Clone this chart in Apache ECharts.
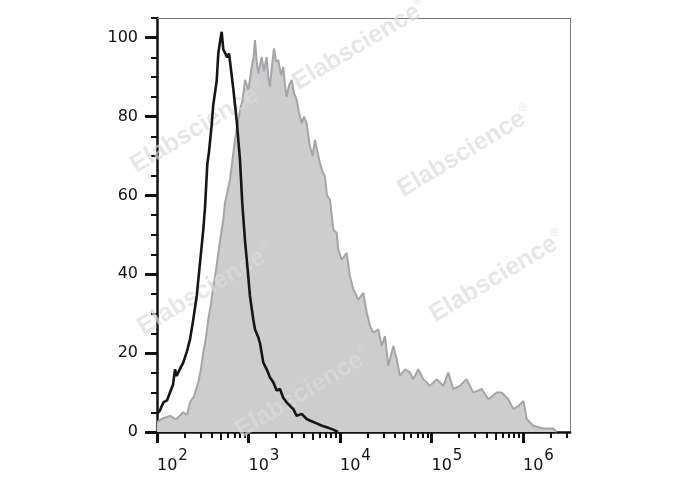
<!DOCTYPE html>
<html>
<head>
<meta charset="utf-8">
<script src="https://cdn.jsdelivr.net/npm/echarts@6/dist/echarts.min.js"></script>
<style>
html,body{margin:0;padding:0;background:#fff;}
#c{width:688px;height:490px;}
</style>
</head>
<body>
<div id="c"></div>
<script>
// x values are log10(fluorescence intensity), y values are % of max
const grayLog = [2.000,2.066,2.142,2.208,2.287,2.328,2.361,2.404,2.451,2.481,2.506,2.536,2.561,2.590,2.615,2.645,2.670,2.699,2.725,2.743,2.770,2.798,2.825,2.852,2.880,2.907,2.934,2.962,2.998,3.035,3.055,3.071,3.090,3.107,3.126,3.144,3.169,3.199,3.216,3.235,3.257,3.279,3.301,3.326,3.355,3.380,3.399,3.417,3.443,3.472,3.497,3.527,3.552,3.581,3.607,3.636,3.654,3.672,3.699,3.727,3.754,3.781,3.809,3.836,3.858,3.891,3.927,3.964,3.982,4.019,4.073,4.109,4.146,4.200,4.255,4.292,4.328,4.364,4.419,4.456,4.492,4.528,4.583,4.620,4.656,4.710,4.765,4.801,4.856,4.911,4.984,5.057,5.129,5.184,5.238,5.311,5.384,5.457,5.549,5.621,5.713,5.767,5.840,5.895,5.950,6.005,6.041,6.113,6.222,6.331,6.368];
const grayCount = [2.5,3.5,4.1,3.2,5.0,4.3,7.5,9.0,12.6,16,20.2,24,28.6,32.5,37,41,45.4,50,53.9,58.1,61,64,69,74.1,78,81.7,84,89.3,86.7,92.6,95,99.4,94,91,93,95.1,91.5,95.1,90,87.6,93,97.3,94,94.3,90.5,92.6,88,85,88,89.3,86,84.2,81,78.3,80,78.3,75,72.4,70,74.1,71,68.2,66,64.8,60,58.9,51.3,50.5,46.3,43.7,45.4,39.5,36.2,33.6,35.3,30.3,26.9,25.2,26,21.8,24.3,16.8,21.8,18.5,14.2,15.9,15.1,13.4,15.9,13.4,11.7,13.4,11.7,15.1,10.9,11.7,13.4,10,10.9,8.3,10,10,8.3,5.8,6.6,7.9,3.3,1.6,0.9,0.9,0];
const blackLog = [2.000,2.033,2.069,2.109,2.142,2.175,2.197,2.215,2.251,2.287,2.328,2.361,2.393,2.434,2.470,2.506,2.525,2.550,2.568,2.598,2.615,2.652,2.670,2.689,2.707,2.725,2.743,2.768,2.787,2.798,2.834,2.871,2.907,2.932,2.962,2.984,3.016,3.052,3.071,3.107,3.126,3.162,3.199,3.235,3.271,3.308,3.344,3.380,3.417,3.454,3.490,3.527,3.581,3.636,3.683,3.745,3.803,3.855,3.927,3.978];
const blackCount = [4.5,5.5,7.5,8,10,12,15.9,14.2,16,17.6,20.5,23.5,28,34.5,42.9,51.3,57,68,71,78,83,89,96,99,101.5,97,96.5,95,96,94,87,79,69,58,48.5,43,34.5,28.6,26,24,22.5,17.6,15.9,13.8,12.6,10.5,10.9,8.7,7.5,6.6,5.8,4.1,4.6,3.3,2.8,2.2,1.6,1.2,0.6,0];
const xDecades = [2,3,4,5,6];          // tick labels 10^2 ... 10^6
const yTickLabels = [0,20,40,60,80,100];
const minorMultipliers = [2,3,4,6,7,8,9];
const midMultipliers = [5];

const X_MIN = 2, X_MAX = 6.514, Y_MIN = 0, Y_MAX = 105;

function logTicks(mults) {
  const out = [];
  xDecades.forEach(d => mults.forEach(m => {
    const v = d + Math.log10(m);
    if (v <= X_MAX) out.push(v);
  }));
  return out;
}

const chart = echarts.init(document.getElementById('c'), null, {renderer: 'canvas'});
const FONT = '"DejaVu Sans", "Open Sans", sans-serif';

const baseX = {
  type: 'value', min: X_MIN, max: X_MAX, position: 'bottom', gridIndex: 0,
  splitLine: {show: false}, axisLine: {show: false}, axisLabel: {show: false},
  axisTick: {show: false}
};
const baseY = {
  type: 'value', min: Y_MIN, max: Y_MAX, position: 'left', gridIndex: 0,
  splitLine: {show: false}, axisLine: {show: false}, axisLabel: {show: false},
  axisTick: {show: false}
};

function wm(x, y) {
  return {
    type: 'text', x: x, y: y, rotation: 31 * Math.PI / 180, z: 3, silent: true,
    style: {
      text: 'Elabscience{r|®}', fill: 'rgba(219,219,219,0.69)',
      font: 'bold 25px "Liberation Sans", Arial, sans-serif',
      align: 'center', verticalAlign: 'middle',
      rich: {r: {fontSize: 11, fontWeight: 'normal', fill: 'rgba(219,219,219,0.69)', padding: [0, 0, 16, 0]}}
    }
  };
}

chart.setOption({
  animation: false,
  backgroundColor: '#ffffff',
  grid: {left: 157, right: 118, top: 18, bottom: 58, containLabel: false, outerBoundsMode: 'none'},
  xAxis: [
    Object.assign({}, baseX, {
      axisLine: {show: true, onZero: false, lineStyle: {color: '#111', width: 2.5}},
      axisTick: {show: true, customValues: logTicks(minorMultipliers), length: 6, lineStyle: {color: '#111', width: 2}},
      axisLabel: {
        show: true, customValues: xDecades, align: 'left', margin: 17,
        formatter: v => '{b|10}{e|' + Math.round(v) + '}',
        rich: {
          b: {fontSize: 16, fontFamily: FONT, color: '#111'},
          e: {fontSize: 15, fontFamily: FONT, color: '#111', padding: [0, 0, 19, 1]}
        }
      }
    }),
    Object.assign({}, baseX, {
      axisTick: {show: true, customValues: logTicks(midMultipliers), length: 8, lineStyle: {color: '#111', width: 2}}
    }),
    Object.assign({}, baseX, {
      axisTick: {show: true, customValues: xDecades, length: 11, lineStyle: {color: '#111', width: 3}}
    }),
    Object.assign({}, baseX, {
      position: 'top',
      axisLine: {show: true, onZero: false, lineStyle: {color: '#777', width: 1}}
    })
  ],
  yAxis: [
    Object.assign({}, baseY, {
      interval: 5,
      axisLine: {show: true, onZero: false, lineStyle: {color: '#111', width: 2.5}},
      axisTick: {show: true, length: 6, lineStyle: {color: '#111', width: 2}},
      axisLabel: {show: true, customValues: yTickLabels, margin: 19, fontSize: 16, fontFamily: FONT, color: '#111'}
    }),
    Object.assign({}, baseY, {
      axisTick: {show: true, customValues: yTickLabels, length: 12, lineStyle: {color: '#111', width: 3}}
    }),
    Object.assign({}, baseY, {
      position: 'right',
      axisLine: {show: true, onZero: false, lineStyle: {color: '#777', width: 1}}
    })
  ],
  graphic: [
    wm(198, 128), wm(360, 45), wm(465, 152),
    wm(205, 290), wm(497, 277), wm(303, 393)
  ],
  series: [
    {
      type: 'line', xAxisIndex: 0, yAxisIndex: 0, z: 1,
      data: grayLog.map((x, i) => [x, grayCount[i]]),
      showSymbol: false, symbol: 'none',
      lineStyle: {color: '#a5a5a9', width: 2},
      areaStyle: {color: '#cdcdcd', opacity: 1}
    },
    {
      type: 'line', xAxisIndex: 0, yAxisIndex: 0, z: 5,
      data: blackLog.map((x, i) => [x, blackCount[i]]),
      showSymbol: false, symbol: 'none',
      lineStyle: {color: '#151515', width: 2.6}
    }
  ]
});
</script>
</body>
</html>
